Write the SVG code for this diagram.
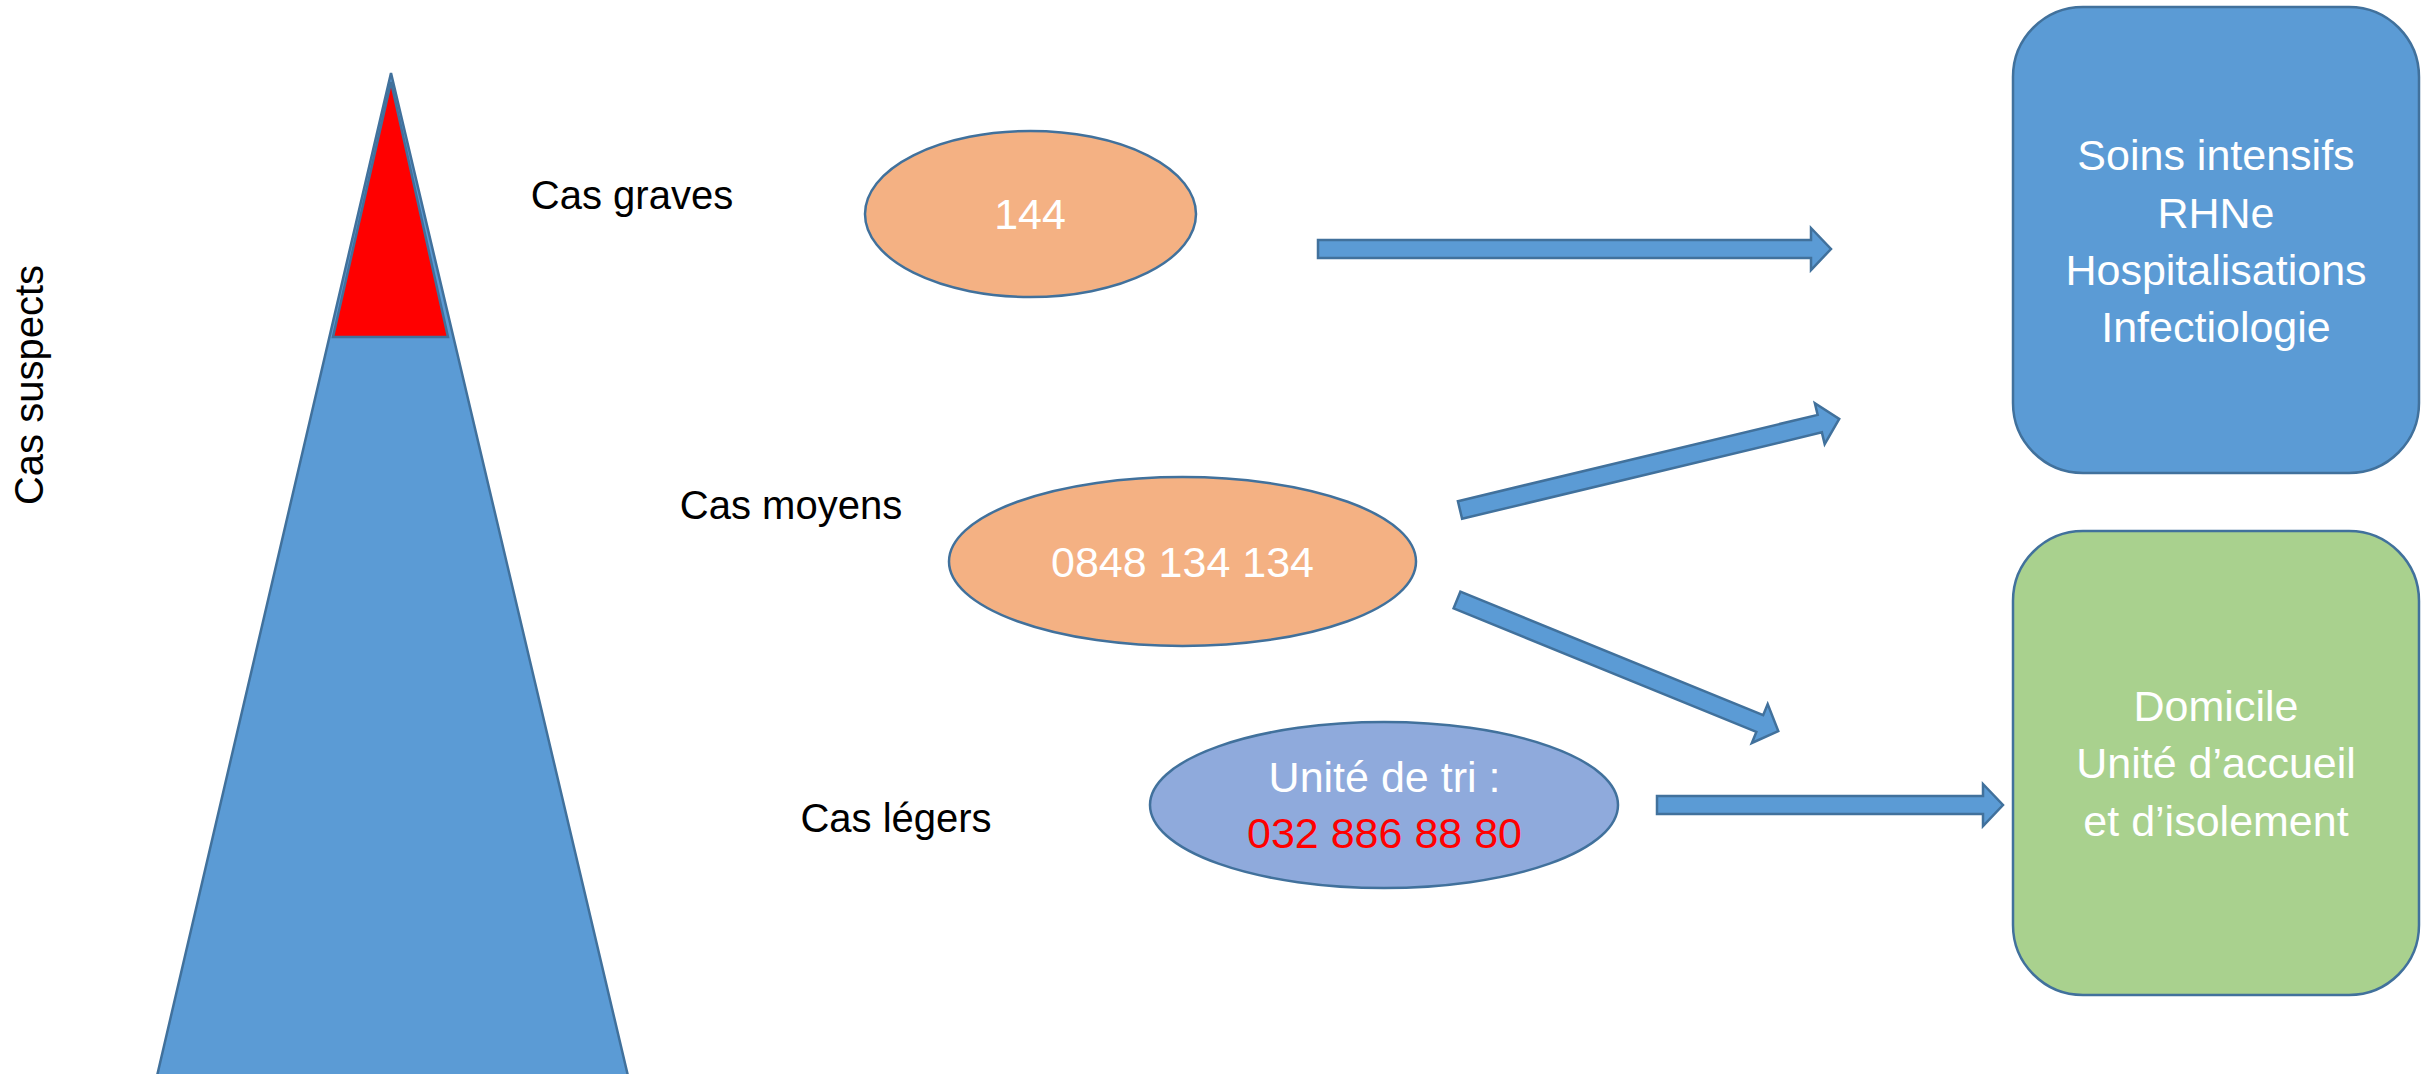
<svg xmlns="http://www.w3.org/2000/svg" width="2435" height="1074" viewBox="0 0 2435 1074">
<style>
.ol{stroke:#41719C;stroke-width:2.5}
.blue{fill:#5B9BD5}
.lbl{font-family:"Liberation Sans",Arial,sans-serif;font-size:40px;fill:#000;text-anchor:middle}
.wt{font-family:"Liberation Sans",Arial,sans-serif;font-size:43px;fill:#fff;text-anchor:middle}
.rd{font-family:"Liberation Sans",Arial,sans-serif;font-size:43px;fill:#FF0000;text-anchor:middle}
</style>
<rect width="2435" height="1074" fill="#fff"/>
<g id="pyramid">
<polygon class="blue ol" points="391,73 157,1076 628,1076"/>
<polygon class="ol" fill="#FF0000" points="391,82 333,337 448,337"/>
</g>
<g id="labels">
<text class="lbl" x="632" y="209">Cas graves</text>
<text class="lbl" x="791" y="519">Cas moyens</text>
<text class="lbl" x="896" y="832">Cas légers</text>
<text class="lbl" transform="translate(43,385) rotate(-90)">Cas suspects</text>
</g>
<g id="n144">
<ellipse class="ol" fill="#F4B183" cx="1030.5" cy="214" rx="165.5" ry="83"/>
<text class="wt" x="1030" y="229">144</text>
</g>
<g id="n0848">
<ellipse class="ol" fill="#F4B183" cx="1182.5" cy="561.5" rx="233.5" ry="84.5"/>
<text class="wt" x="1182.5" y="577">0848 134 134</text>
</g>
<g id="ntri">
<ellipse class="ol" fill="#8FAADC" cx="1384" cy="805" rx="234" ry="83"/>
<text class="wt" x="1384.5" y="792">Unité de tri :</text>
<text class="rd" x="1384.5" y="848">032 886 88 80</text>
</g>
<g id="nsoins">
<rect class="blue ol" x="2013" y="7" width="406" height="466" rx="70" ry="70"/>
<text class="wt" x="2216" y="170">Soins intensifs</text>
<text class="wt" x="2216" y="228">RHNe</text>
<text class="wt" x="2216" y="285">Hospitalisations</text>
<text class="wt" x="2216" y="342">Infectiologie</text>
</g>
<g id="ndomicile">
<rect class="ol" fill="#A9D18E" x="2013" y="531" width="406" height="464" rx="70" ry="70"/>
<text class="wt" x="2216" y="721">Domicile</text>
<text class="wt" x="2216" y="778">Unité d’accueil</text>
<text class="wt" x="2216" y="836">et d’isolement</text>
</g>
<g id="connectors">
<polygon class="blue ol" transform="translate(1318,249)" points="0,-9 493,-9 493,-21 513,0 493,21 493,9 0,9"/>
<polygon class="blue ol" transform="translate(1460,510) rotate(-13.5)" points="0,-9 370,-9 370,-21 390,0 370,21 370,9 0,9"/>
<polygon class="blue ol" transform="translate(1457,600) rotate(22.2)" points="0,-9 327,-9 327,-21 347,0 327,21 327,9 0,9"/>
<polygon class="blue ol" transform="translate(1657,805)" points="0,-9 326,-9 326,-21 346,0 326,21 326,9 0,9"/>
</g>
</svg>
